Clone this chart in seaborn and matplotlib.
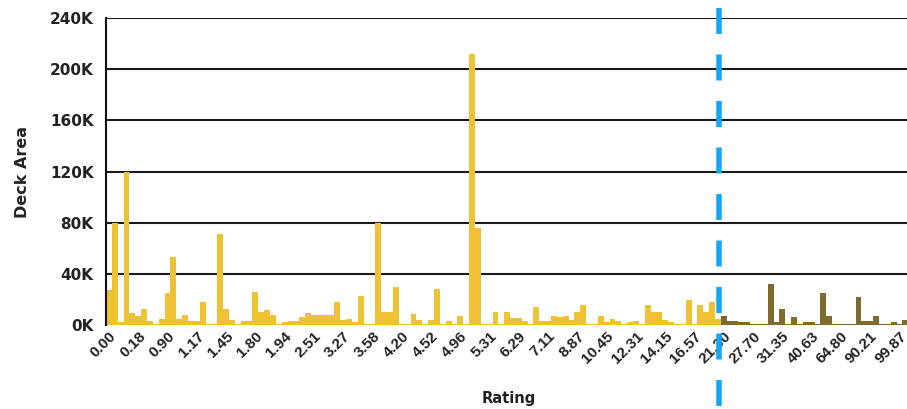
import numpy as np
import pandas as pd
import matplotlib
matplotlib.use("Agg")
import matplotlib.pyplot as plt
import matplotlib.transforms as mtransforms
from matplotlib.ticker import FuncFormatter
import seaborn as sns

# ── Data (values in thousands) ──────────────────────────────────
DECK_AREA_K = [
    27, 80, 2, 120, 9, 7, 12.5, 3, 1, 5,
    25, 53, 5, 8, 3, 3, 18, 1, 1, 71,
    12.5, 4, 1, 3, 3, 26, 10, 12, 8, 1,
    2, 3, 3, 6, 9, 7.5, 7.5, 7.5, 8, 18,
    4, 5, 2, 23, 1, 1, 80, 10, 10, 30,
    1, 1, 8.5, 4, 1, 4, 28, 1, 3.5, 1,
    7, 1, 212, 76, 1, 1, 10, 1, 10, 5.5,
    5.5, 3, 1, 14, 3, 3, 7, 6, 7, 4,
    10, 15.5, 1, 1, 7, 2, 5, 3, 1, 2,
    3.5, 1, 15.5, 10, 10, 4, 2, 1, 1, 19.5,
    1, 16, 10, 18, 5, 7, 3.5, 3.5, 2.3, 2.3,
    0.5, 0.5, 1, 32, 2, 12.5, 1, 6, 1, 2.5,
    2.5, 1, 25, 7, 0.5, 0.5, 0.5, 0.5, 22, 3.5,
    3.5, 7, 0.5, 0.5, 2.5, 1, 4, 2, 1,
]
RATING_TICKS = ["0.00", "0.18", "0.90", "1.17", "1.45", "1.80", "1.94",
                "2.51", "3.27", "3.58", "4.20", "4.52", "4.96", "5.31",
                "6.29", "7.11", "8.87", "10.45", "12.31", "14.15", "16.57",
                "21.30", "27.70", "31.35", "40.63", "64.80", "90.21", "99.87"]
TICK_EVERY = 5
SPLIT_INDEX = 105          # first bar after the threshold
DIVIDER_X = 104.1          # dashed threshold line (bar-index units)

YELLOW = "#EEC232"
OLIVE = "#806A2E"
BLUE = "#16A6F8"

n = len(DECK_AREA_K)
df = pd.DataFrame({
    "pos": np.arange(n),
    "deck_area": np.array(DECK_AREA_K) * 1000,
    "segment": ["below"] * SPLIT_INDEX + ["above"] * (n - SPLIT_INDEX),
})

# ── Plot ────────────────────────────────────────────────────────
sns.set_style("white")
plt.rcParams["font.family"] = ["DejaVu Sans"]

fig = plt.figure(figsize=(9.07, 4.09), dpi=100)
ax = fig.add_axes([106 / 907, 1 - 325 / 409, 814 / 907, 307 / 409])

sns.barplot(data=df, x="pos", y="deck_area", hue="segment",
            palette={"below": YELLOW, "above": OLIVE}, dodge=False,
            width=1.0, linewidth=0, saturation=1, legend=False, ax=ax)

ax.set_xlim(-0.5, n - 0.5)
ax.set_ylim(0, 240000)
ax.set_yticks(np.arange(0, 240001, 40000))
ax.yaxis.set_major_formatter(FuncFormatter(lambda v, _: f"{v / 1000:.0f}K"))
ax.set_xticks(np.arange(0, n, TICK_EVERY))
ax.set_xticklabels(RATING_TICKS, rotation=45, ha="right",
                   rotation_mode="anchor", fontsize=11, fontweight="bold",
                   family=["Liberation Sans", "DejaVu Sans"], color="#222222")
ax.tick_params(axis="y", labelsize=11, length=0, pad=9, labelcolor="#222222")
ax.tick_params(axis="x", length=0, pad=3)
for lab in ax.get_yticklabels():
    lab.set_fontweight("bold")

ax.set_axisbelow(True)
ax.grid(axis="y", color="#1a1a1a", linewidth=1.5)
for s in ["top", "right", "bottom"]:
    ax.spines[s].set_visible(False)
ax.spines["left"].set_color("#111111")
ax.spines["left"].set_linewidth(1.5)

ax.set_xlabel("Rating", fontsize=10.5, fontweight="bold", color="#222222")
ax.set_ylabel("Deck Area", fontsize=11.5, fontweight="bold", color="#222222")
ax.xaxis.set_label_coords(0.495, -0.215)
ax.yaxis.set_label_coords(-0.093, 0.5)

# dashed threshold line running past the axes
trans = mtransforms.blended_transform_factory(ax.transData, ax.transAxes)
ax.plot([DIVIDER_X, DIVIDER_X], [1.0326, -0.28], transform=trans,
        color=BLUE, linewidth=4, linestyle=(0, (4.68, 3.69)),
        clip_on=False, zorder=5)

plt.savefig("out.png", dpi=100)
plt.close()
